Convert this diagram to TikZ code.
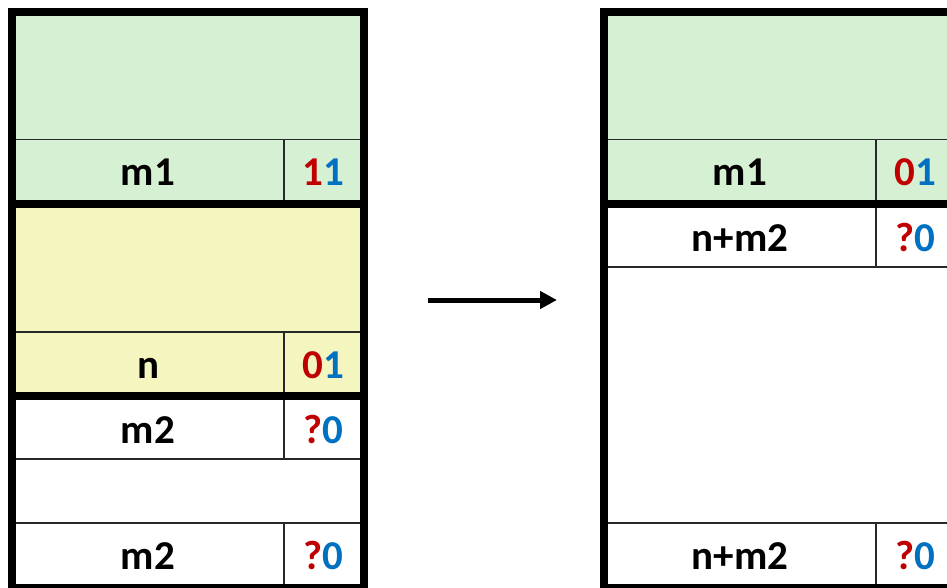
\documentclass[tikz,border=0pt]{standalone}
\usepackage{fontspec}
\setmainfont{Carlito}
\usepackage{tikz}
\usetikzlibrary{arrows.meta}
\definecolor{color-alloc}{RGB}{214,240,211}
\definecolor{color-free}{RGB}{245,245,192}
\definecolor{tag-red}{RGB}{192,0,0}
\definecolor{tag-blue}{RGB}{0,112,192}
\definecolor{rule-gray}{RGB}{40,40,40}

\begin{document}
\begin{tikzpicture}[x=1pt, y=-1pt,
  label/.style={font=\bfseries\fontsize{41}{41}\selectfont, inner sep=0pt, anchor=base},
  rule/.style={rule-gray, line width=1.3pt},
  frame/.style={black, line width=8pt},
  tag/.style={label, name=#1}]
\useasboundingbox (0,0) rectangle (947,587);
\clip (0,0) rectangle (947,587);

% fills of the blocks
\fill[color-alloc] (12,12) rectangle (364,204);
\fill[color-free] (12,204) rectangle (364,396);
\fill[color-alloc] (604,12) rectangle (956,204);

% row rules, left heap
\draw[rule] (12,139.5) -- (364,139.5);
\draw[rule] (284,139.5) -- (284,204);
\draw[rule] (12,332) -- (364,332);
\draw[rule] (284,332) -- (284,396);
\draw[rule] (12,459) -- (364,459);
\draw[rule] (284,396) -- (284,459);
\draw[rule] (12,523) -- (364,523);
\draw[rule] (284,523) -- (284,588);

% row rules, right heap
\draw[rule] (604,139.5) -- (956,139.5);
\draw[rule] (876,139.5) -- (876,204);
\draw[rule] (604,267) -- (956,267);
\draw[rule] (876,204) -- (876,267);
\draw[rule] (604,523) -- (956,523);
\draw[rule] (876,523) -- (876,588);

% outer frames and block boundaries
\draw[frame] (12,12) rectangle (364,588);
\draw[frame] (12,204) -- (364,204);
\draw[frame] (12,396) -- (364,396);
\draw[frame] (604,12) rectangle (956,588);
\draw[frame] (604,204) -- (956,204);

% sizes and tags, left heap (placed on the baseline)
\node[label] (m1a) at (148,185) {m1};
\node[tag=t1a] at (323,185) {\color{tag-red}1\color{tag-blue}1};
\node[label] (n) at (148,378) {n};
\node[tag=tn] at (323,378) {\color{tag-red}0\color{tag-blue}1};
\node[label] (m2a) at (148,443) {m2};
\node[tag=tm2a] at (323,443) {\color{tag-red}?\color{tag-blue}0};
\node[label] (m2b) at (148,569) {m2};
\node[tag=tm2b] at (323,569) {\color{tag-red}?\color{tag-blue}0};

% sizes and tags, right heap
\node[label] (m1b) at (740,185) {m1};
\node[tag=t1b] at (915,185) {\color{tag-red}0\color{tag-blue}1};
\node[label] (nm2a) at (740,251) {n+m2};
\node[tag=tnm2a] at (915,251) {\color{tag-red}?\color{tag-blue}0};
\node[label] (nm2b) at (740,569) {n+m2};
\node[tag=tnm2b] at (915,569) {\color{tag-red}?\color{tag-blue}0};

% coalescing arrow
\coordinate (from) at (428,300);
\coordinate (to) at (557,300);
\draw[line width=5pt, -{Triangle[length=17pt, width=17pt]}] (from) -- (to);
\end{tikzpicture}
\end{document}
